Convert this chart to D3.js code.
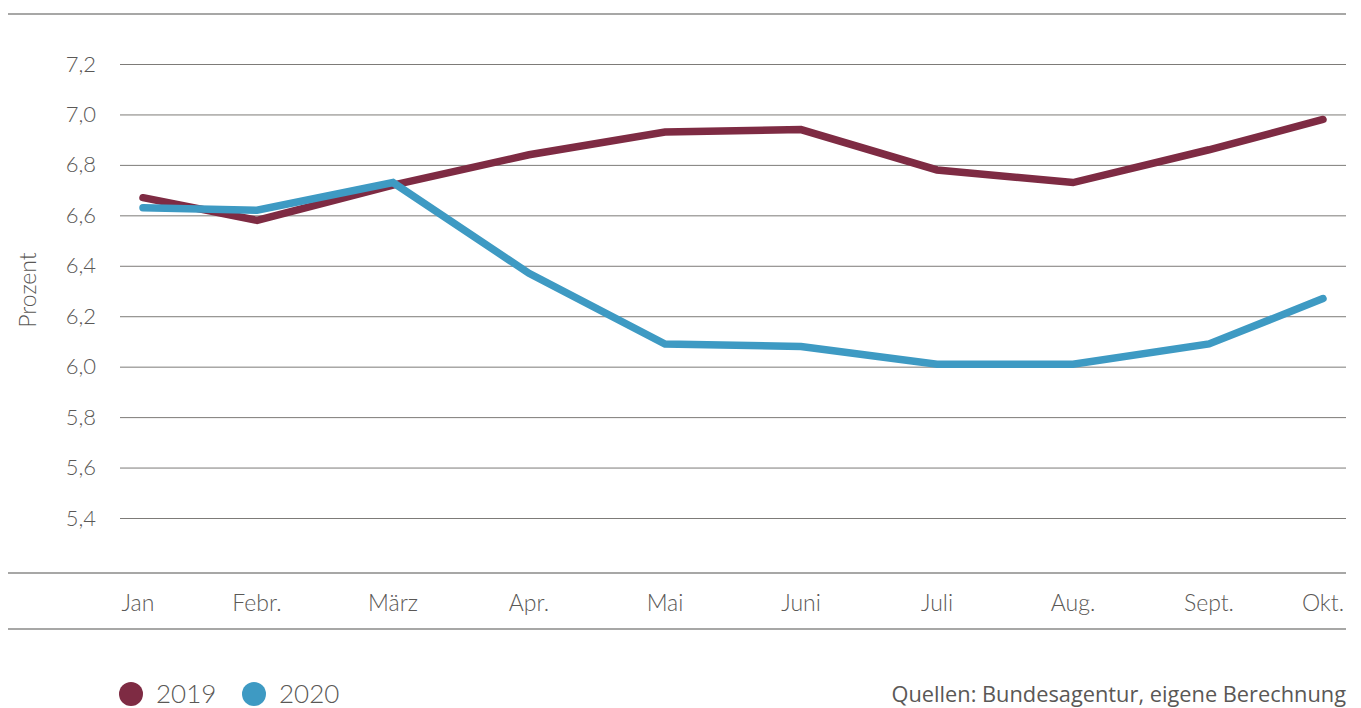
<!DOCTYPE html>
<html>
<head>
<meta charset="utf-8">
<script src="https://cdn.jsdelivr.net/npm/d3@7"></script>
<style>
  body { margin: 0; background: #fff; }
  svg text { font-family: Lato, "Open Sans", sans-serif; font-weight: 300; fill: #5a5856; }
</style>
</head>
<body>
<svg id="chart"></svg>
<script>
const months = ["Jan", "Febr.", "März", "Apr.", "Mai", "Juni", "Juli", "Aug.", "Sept.", "Okt."];
const values2019 = [6.67, 6.58, 6.72, 6.84, 6.93, 6.94, 6.78, 6.73, 6.86, 6.98];
const values2020 = [6.63, 6.62, 6.73, 6.37, 6.09, 6.08, 6.01, 6.01, 6.09, 6.27];
const yTicks = [5.4, 5.6, 5.8, 6.0, 6.2, 6.4, 6.6, 6.8, 7.0, 7.2];
const seriesNames = ["2019", "2020"];
const colors = ["#7e2b43", "#3e9ac3"];

const width = 1361, height = 708;
const svg = d3.select("#chart").attr("width", width).attr("height", height);

// first and last months sit closer to their neighbours
const x = d3.scaleLinear()
  .domain([0, 1, months.length - 2, months.length - 1])
  .range([143, 257, 1209, 1323]);
const y = d3.scaleLinear().domain([5.4, 7.2]).range([518, 64]);

// frame lines
svg.append("g").selectAll("line")
  .data([14, 573, 629])
  .join("line")
  .attr("x1", 8).attr("x2", 1346)
  .attr("y1", d => d).attr("y2", d => d)
  .attr("stroke", "#8a8a88").attr("stroke-width", 1.5);

// y grid + labels
const yAxis = svg.append("g")
  .attr("transform", "translate(120,0)")
  .call(d3.axisLeft(y).tickValues(yTicks).tickSize(-1226).tickPadding(24)
    .tickFormat(d => d3.format(".1f")(d).replace(".", ",")));
yAxis.select(".domain").remove();
yAxis.selectAll(".tick line").attr("stroke", "#7d7b78").attr("stroke-width", 1);
yAxis.selectAll("text").style("font-size", "22px").attr("fill", "#5a5856");

svg.append("text")
  .attr("transform", "translate(36,290) rotate(-90)")
  .attr("text-anchor", "middle")
  .style("font-size", "23px")
  .text("Prozent");

// x labels
svg.append("g").selectAll("text")
  .data(months)
  .join("text")
  .attr("x", (d, i) => i === 0 ? x(i) - 5 : x(i))
  .attr("y", 611)
  .attr("text-anchor", "middle")
  .style("font-size", "23px")
  .text(d => d);

// lines
const line = d3.line()
  .x((d, i) => x(i))
  .y(d => y(d));

svg.append("g").selectAll("path")
  .data([values2019, values2020])
  .join("path")
  .attr("fill", "none")
  .attr("stroke", (d, i) => colors[i])
  .attr("stroke-width", 7.5)
  .attr("stroke-linecap", "round")
  .attr("stroke-linejoin", "miter")
  .attr("d", line);

// legend
const legend = svg.append("g").selectAll("g")
  .data(seriesNames)
  .join("g")
  .attr("transform", (d, i) => `translate(${131 + i * 123},694)`);
legend.append("circle").attr("r", 12).attr("fill", (d, i) => colors[i]);
legend.append("text")
  .attr("x", 25).attr("dy", "0.35em")
  .style("font-size", "26px")
  .text(d => d);

svg.append("text")
  .attr("x", 1346).attr("y", 702)
  .attr("text-anchor", "end")
  .style("font-family", "'Open Sans', sans-serif")
  .style("font-weight", "400")
  .style("font-size", "21.8px")
  .attr("fill", "#4a4846")
  .text("Quellen: Bundesagentur, eigene Berechnung");
</script>
</body>
</html>
